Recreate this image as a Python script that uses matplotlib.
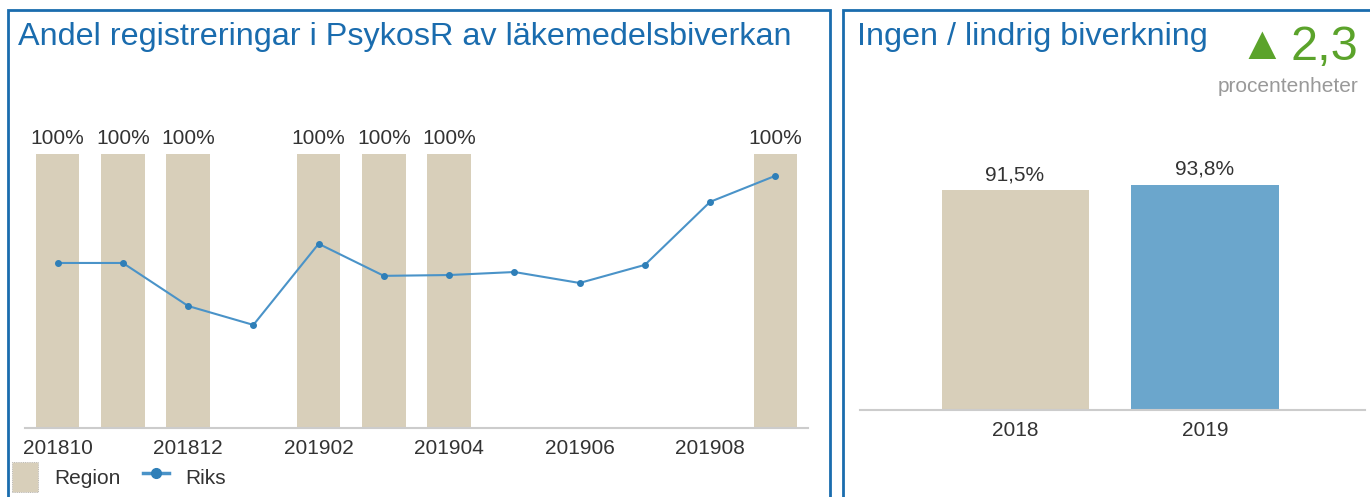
import matplotlib
matplotlib.use("Agg")
import matplotlib.pyplot as plt
from matplotlib.patches import Rectangle
from matplotlib.lines import Line2D
import numpy as np

plt.rcParams['font.family'] = ['Liberation Sans', 'DejaVu Sans']

# ---- data ----
months = ["201810", "201811", "201812", "201901", "201902", "201903",
          "201904", "201905", "201906", "201907", "201908", "201909"]
region = [100, 100, 100, None, 100, 100, 100, None, None, None, None, 100]
riks = [60.2, 60.2, 44.5, 37.6, 67.2, 55.5, 55.8, 56.9, 52.9, 59.5, 82.5, 92.0]

years = ["2018", "2019"]
share = [91.5, 93.8]
change = "2,3"

W, H = 1370, 497
fig = plt.figure(figsize=(W / 100, H / 100), dpi=100)

def px_axes(x0, y0, x1, y1):
    # pixel coords, y from top
    return fig.add_axes([x0 / W, 1 - y1 / H, (x1 - x0) / W, (y1 - y0) / H])

BLUE = "#1a6cae"
BEIGE = "#d8cfba"
TXT = "#333333"
LINE = "#4a93c8"
MARK = "#2f7fb8"
GREEN = "#5ba32b"

# panel borders
fig.patches.append(Rectangle((8 / W, -0.1), (830 - 8) / W, 1 - 10 / H + 0.1,
                             transform=fig.transFigure, fill=False,
                             edgecolor=BLUE, linewidth=2))
fig.patches.append(Rectangle((843 / W, -0.1), 0.5, 1 - 10 / H + 0.1,
                             transform=fig.transFigure, fill=False,
                             edgecolor=BLUE, linewidth=2))

# ---- left chart ----
ax = px_axes(25, 110, 808, 428)
x = np.arange(len(months))
rv = [v if v is not None else 0 for v in region]
ax.bar(x, rv, width=0.67, color=BEIGE, label="Region")
for xi, v in zip(x, region):
    if v is not None:
        ax.text(xi, v + 2, f"{v:.0f}%", ha="center", va="bottom",
                fontsize=15, color=TXT)
ax.plot(x, riks, color=LINE, linewidth=1.5, marker="o", markersize=4,
        markerfacecolor=MARK, markeredgecolor=MARK, label="Riks")
ax.set_xlim(-0.5, len(months) - 0.5)
ax.set_ylim(0, 116)
ax.set_xticks(x[::2])
ax.set_xticklabels(months[::2], fontsize=15, color=TXT)
ax.tick_params(axis="x", length=0, pad=8)
ax.set_yticks([])
for s in ["top", "right", "left"]:
    ax.spines[s].set_visible(False)
ax.spines["bottom"].set_color("#cccccc")
ax.spines["bottom"].set_linewidth(1.5)

fig.text(18 / W, 1 - 37 / H, "Andel registreringar i PsykosR av läkemedelsbiverkan",
         fontsize=23.3, color=BLUE, ha="left", va="center")

# legend
handles = [Rectangle((0, 0), 1, 1, facecolor=BEIGE, edgecolor="#aaaaaa",
                     linewidth=0.6, linestyle=":"),
           Line2D([], [], color=LINE, linewidth=2.5, marker="o",
                  markersize=7, markerfacecolor=MARK,
                  markeredgecolor=MARK)]
fig.legend(handles, ["Region", "Riks"], loc="center left",
           bbox_to_anchor=(12 / W, 1 - 477 / H), ncol=2, frameon=False,
           fontsize=15, handlelength=1.25, handleheight=1.8, columnspacing=1.05,
           handletextpad=0.8, borderpad=0, borderaxespad=0, labelcolor=TXT)

# ---- right chart ----
ax2 = px_axes(860, 110, 1365, 410)
xb = np.arange(len(years))
ax2.bar(xb, share, width=0.774, color=[BEIGE, "#6ba6cc"])
for xi, v in zip(xb, share):
    ax2.text(xi, v + 2.5, f"{v:.1f}%".replace(".", ","), ha="center",
             va="bottom", fontsize=15, color=TXT)
ax2.set_xlim(-0.816, 1.842)
ax2.set_ylim(0, 124.8)
ax2.set_xticks(xb)
ax2.set_xticklabels(years, fontsize=15, color=TXT)
ax2.tick_params(axis="x", length=0, pad=8)
ax2.set_yticks([])
for s in ["top", "right", "left"]:
    ax2.spines[s].set_visible(False)
ax2.spines["bottom"].set_color("#cccccc")
ax2.spines["bottom"].set_linewidth(1.5)

fig.text(857 / W, 1 - 37 / H, "Ingen / lindrig biverkning",
         fontsize=23.3, color=BLUE, ha="left", va="center")
fig.text(1358 / W, 1 - 47 / H, change, fontsize=35, color=GREEN,
         ha="right", va="center")
fig.text(1285 / W, 1 - 47 / H, "▲", fontsize=34, color=GREEN,
         ha="right", va="center", family=["Liberation Sans", "DejaVu Sans"])
fig.text(1358 / W, 1 - 87 / H, "procentenheter", fontsize=15,
         color="#999999", ha="right", va="center")

fig.savefig("out.png", dpi=100)
